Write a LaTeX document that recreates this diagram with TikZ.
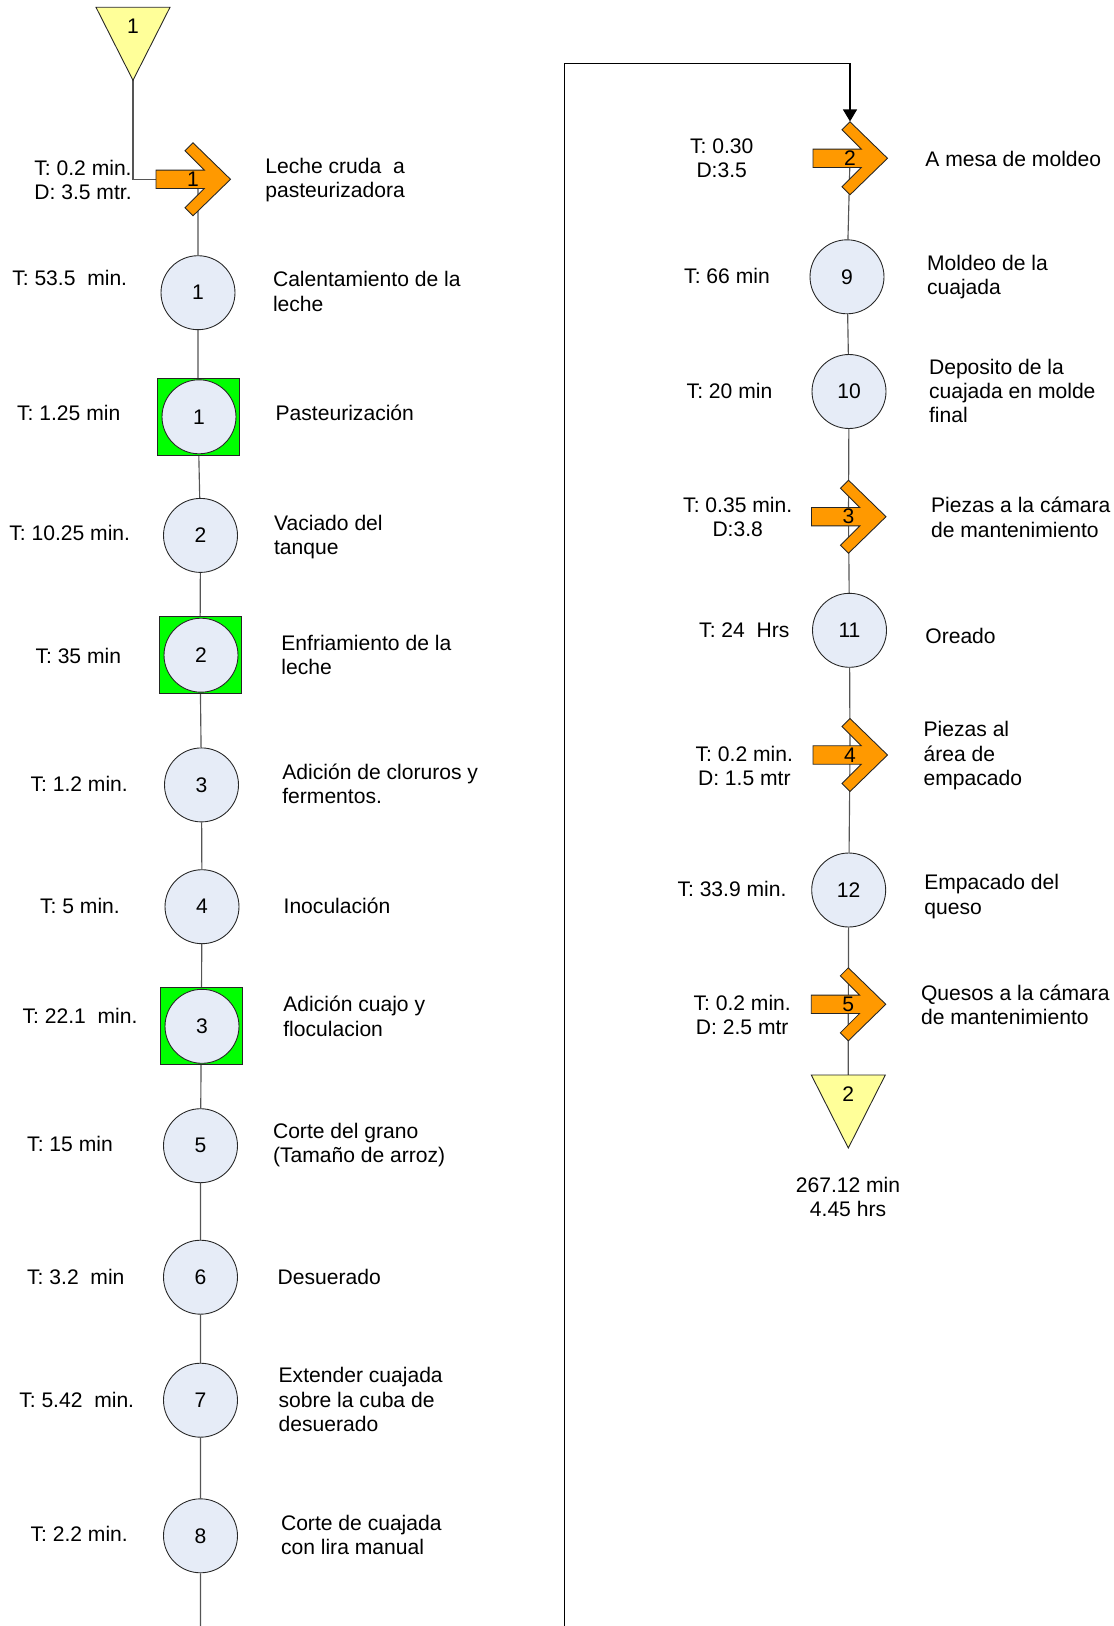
\documentclass[tikz,border=0pt]{standalone}
\usepackage{fontspec}
\setmainfont{Liberation Sans}
\usepackage{tikz}
\usetikzlibrary{arrows.meta,calc,backgrounds}

\definecolor{opfill}{HTML}{E6ECF7}
\definecolor{inspfill}{HTML}{00FF00}
\definecolor{movefill}{HTML}{FF9900}
\definecolor{storefill}{HTML}{FFFF99}
\definecolor{flowline}{HTML}{555555}

% transport arrow: name, position, number
\newcommand{\movearrow}[3]{%
  \begin{scope}[shift={#2}]
    \filldraw[fill=movefill, draw=black!85, line width=0.5pt]
      (-37,-9.2) -- (11.3,-9.2) -- (-8,-28.5) -- (0,-36.5) -- (37.5,0)
      -- (0,36.5) -- (-8,28.5) -- (11.3,9.2) -- (-37,9.2) -- cycle;
  \end{scope}
  \node[move] (#1) at #2 {#3};
}

% storage triangle: name, top centre, number
\newcommand{\storage}[3]{%
  \filldraw[fill=storefill, draw=black!85, line width=0.5pt]
    #2 ++(-37,0) -- ++(74,0) -- ++(-37,73) -- cycle;
  \node[storenum] (#1) at ($#2+(0,19.4)$) {#3};
  \coordinate (#1tip) at ($#2+(0,73)$);
}

\begin{document}
\begin{tikzpicture}[
  x=0.02cm, y=-0.02cm,
  font=\fontsize{12}{13.9}\selectfont,
  op/.style={circle, draw=black!85, fill=opfill, line width=0.5pt, minimum size=1.48cm, inner sep=0pt},
  insp/.style={rectangle, draw=black!85, fill=inspfill, line width=0.5pt, minimum width=1.64cm, minimum height=1.54cm, inner sep=0pt},
  move/.style={rectangle, minimum width=1.48cm, minimum height=1.46cm, inner sep=0pt},
  storenum/.style={inner sep=0pt},
  flow/.style={draw=flowline, line width=0.65pt},
  desc/.style={anchor=west, align=left, inner sep=0pt},
  tlab/.style={align=center, inner sep=0pt},
]
\useasboundingbox (0,0) rectangle (1113,1626);

% Left column
\storage{s1}{(133,7.3)}{1}
\movearrow{t1}{(193,179.3)}{1}
\node[op] (c1) at (198,292.7) {1};
\node[insp] (q1) at (198,416.8) {};
\node[op] (i1) at (199,416.8) {1};
\node[op] (c2) at (200.5,535.4) {2};
\node[insp] (q2) at (200,655.2) {};
\node[op] (i2) at (201,655.2) {2};
\node[op] (c3) at (201.5,784.9) {3};
\node[op] (c4) at (202,906.7) {4};
\node[insp] (q3) at (201.3,1026.3) {};
\node[op] (i3) at (202,1026.3) {3};
\foreach \n/\y in {5/1145.7, 6/1277.2, 7/1400.2, 8/1535.8} {
  \node[op] (c\n) at (200.5,\y) {\n};
}
\coordinate (out1) at (200.5,1626);

% Times, left
\node[tlab] (tm0) at (83,180) {T: 0.2 min.\\D: 3.5 mtr.};
\node[tlab] (tm1) at (69.7,278) {T: 53.5~~min.};
\node[tlab] (tm2) at (68.7,413.2) {T: 1.25 min};
\node[tlab] (tm3) at (69.7,533) {T: 10.25 min.};
\node[tlab] (tm4) at (78.3,656) {T: 35 min};
\node[tlab] (tm5) at (79.2,783.6) {T: 1.2 min.};
\node[tlab] (tm6) at (80,906) {T: 5 min.};
\node[tlab] (tm7) at (80,1016.3) {T: 22.1~~min.};
\node[tlab] (tm8) at (70,1144.4) {T: 15 min};
\node[tlab] (tm9) at (75.8,1276.5) {T: 3.2~~min};
\node[tlab] (tm10) at (76.7,1399.7) {T: 5.42~~min.};
\node[tlab] (tm11) at (79.2,1534) {T: 2.2 min.};

% Steps, left
\node[desc] (d0) at (265,180) {Leche cruda~~a\\pasteurizadora};
\node[desc] (d1) at (272.7,291.4) {Calentamiento de la\\leche};
\node[desc] (d2) at (275.3,413.2) {Pasteurización};
\node[desc] (d3) at (273.7,537) {Vaciado del\\tanque};
\node[desc] (d4) at (281,655) {Enfriamiento de la\\leche};
\node[desc] (d5) at (282,783.6) {Adición de cloruros y\\fermentos.};
\node[desc] (d6) at (283.3,906) {Inoculación};
\node[desc] (d7) at (283,1016.3) {Adición cuajo y\\floculacion};
\node[desc] (d8) at (272.7,1145.3) {Corte del grano\\(Tamaño de arroz)};
\node[desc] (d9) at (277.3,1276.5) {Desuerado};
\node[desc] (d10) at (278.3,1399.7) {Extender cuajada\\sobre la cuba de\\desuerado};
\node[desc] (d11) at (280.7,1535) {Corte de cuajada\\con lira manual};

% Right column
\movearrow{t2}{(850,158.3)}{2}
\node[op] (c9) at (847,276.8) {9};
\node[op] (c10) at (849,391.5) {10};
\movearrow{t3}{(848.5,516.7)}{3}
\node[op] (c11) at (849.5,630.3) {11};
\movearrow{t4}{(850,755)}{4}
\node[op] (c12) at (848.7,890) {12};
\movearrow{t5}{(848.3,1004.3)}{5}
\storage{s2}{(848.3,1075)}{2}
\coordinate (in2) at (564.3,1626);
\coordinate (turn) at (564.3,63.3);

% Times, right
\node[tlab] (tr2) at (721.7,158.5) {T: 0.30\\D:3.5};
\node[tlab] (tr9) at (727,276) {T: 66 min};
\node[tlab] (tr10) at (729.5,391) {T: 20 min};
\node[tlab] (tr3) at (737.7,517.2) {T: 0.35 min.\\D:3.8};
\node[tlab] (tr11) at (744.3,630) {T: 24~~Hrs};
\node[tlab] (tr4) at (744.3,765.8) {T: 0.2 min.\\D: 1.5 mtr};
\node[tlab] (tr12) at (732,889.3) {T: 33.9 min.};
\node[tlab] (tr5) at (742.2,1015) {T: 0.2 min.\\D: 2.5 mtr};
\node[tlab] (total) at (848,1197.2) {267.12 min\\4.45 hrs};

% Steps, right
\node[desc] (d12) at (925,159.3) {A mesa de moldeo};
\node[desc] (d13) at (926.7,276.8) {Moldeo de la\\cuajada};
\node[desc] (d14) at (928.7,391) {Deposito de la\\cuajada en molde\\final};
\node[desc] (d15) at (930.7,517.2) {Piezas a la cámara\\de mantenimiento};
\node[desc] (d16) at (925,636) {Oreado};
\node[desc] (d17) at (923.3,755.7) {Piezas al\\área de\\empacado};
\node[desc] (d18) at (924,896.5) {Empacado del\\queso};
\node[desc] (d19) at (920.7,1005) {Quesos a la cámara\\de mantenimiento};

% Connectors behind the symbols
\begin{scope}[on background layer]
  \draw[flow] (s1tip) |- (t1.west);
  \draw[flow] (t1.center -| c1) -- (c1) -- (q1) -- (c2) -- (q2) -- (c3) -- (c4)
    -- (q3) -- (c5) -- (c6) -- (c7) -- (c8) -- (out1);
  \draw[line width=0.65pt, -{Triangle[width=2.8mm,length=2.4mm]}] (in2) -- (turn) -| (t2.north);
  \draw[flow] (t2.center) -- (c9) -- (c10) -- (t3.center) -- (c11) -- (t4.center)
    -- (c12) -- (t5.center) -- (s2);
\end{scope}
\end{tikzpicture}
\end{document}
